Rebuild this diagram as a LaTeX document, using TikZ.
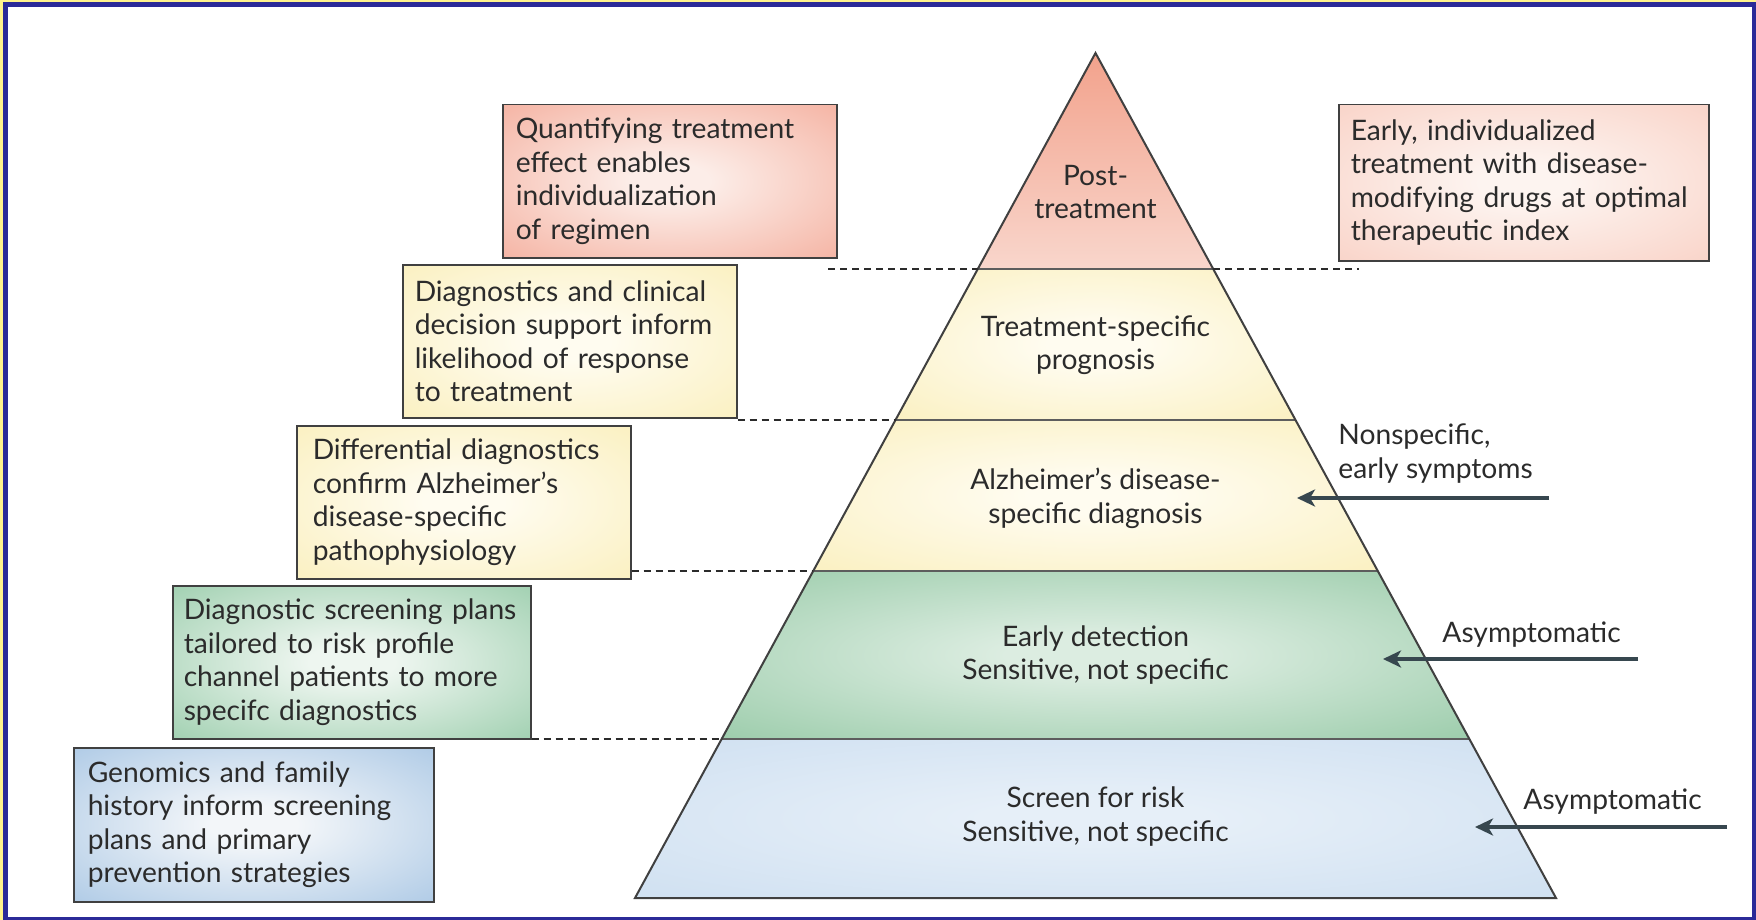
\documentclass[tikz,border=0pt]{standalone}
\usepackage{fontspec}
\setmainfont{Lato}
\usetikzlibrary{arrows.meta}

% frame and line colours
\definecolor{framebg}{HTML}{FFF38C}
\definecolor{frameblue}{HTML}{2B2A98}
\definecolor{ink}{HTML}{2B2B2B}
\definecolor{edge}{HTML}{404040}
\definecolor{arrowgray}{HTML}{37474F}
% tier colours
\definecolor{salmonTop}{HTML}{F2A28C}
\definecolor{salmonLow}{HTML}{F9D6CC}
\definecolor{creamOut}{HTML}{F9EDB4}
\definecolor{creamIn}{HTML}{FFFCF0}
\definecolor{greenOut}{HTML}{8AC39C}
\definecolor{greenIn}{HTML}{DCEDE1}
\definecolor{skyOut}{HTML}{C9DCEF}
\definecolor{skyIn}{HTML}{E6EFF8}
% box colours
\definecolor{roseOut}{HTML}{F3A491}
\definecolor{roseIn}{HTML}{FCEDE8}
\definecolor{peachOut}{HTML}{F8CBBE}
\definecolor{peachIn}{HTML}{FDF4F0}
\definecolor{mintOut}{HTML}{8CC6A0}
\definecolor{mintIn}{HTML}{EEF6F0}
\definecolor{steelOut}{HTML}{9DBFE1}
\definecolor{steelIn}{HTML}{F3F6F9}

% soft radial fill: light centre fading to the edge colour
\colorlet{softin}{white}
\colorlet{softout}{white}
\pgfdeclareradialshading[softin,softout]{soft}{\pgfpointorigin}{%
  color(0bp)=(softin); color(6bp)=(softin); color(44bp)=(softout); color(75bp)=(softout)}

\tikzset{
  x=0.5pt, y=-0.5pt,
  txt/.style={font=\fontsize{14.1}{16.75}\selectfont, text=ink},
  soft/.style 2 args={/utils/exec={\colorlet{softin}{#1}\colorlet{softout}{#2}}, shade, shading=soft},
  infobox/.style={anchor=north west, rectangle, draw=edge, line width=0.75pt,
    align=left, inner sep=0pt, txt},
  tierlabel/.style={align=center, inner sep=0pt, txt},
  sidelabel/.style={align=left, inner sep=0pt, anchor=west, txt},
  tierline/.style={draw=edge!85, line width=0.75pt},
  outline/.style={draw=edge, line width=1pt, line join=miter},
  levelmark/.style={draw=ink, line width=0.7pt, dash pattern=on 3.5pt off 2.5pt},
  inarrow/.style={draw=arrowgray, line width=2.2pt,
    -{Stealth[length=9pt, width=8.5pt, inset=2.5pt]}},
}

\begin{document}
\begin{tikzpicture}
\useasboundingbox (0,0) rectangle (1756,920);

% frame
\fill[framebg] (0,0) rectangle (1756,920);
\fill[frameblue] (3,2.5) rectangle (1756,920);
\fill[white] (8,7.5) rectangle (1752,917);

% pyramid corners and tier boundaries
\coordinate (apex) at (1095.5,53);
\coordinate (bl) at (635,898);
\coordinate (br) at (1556,898);
\coordinate (l1) at (977.8,269);  \coordinate (r1) at (1213.2,269);
\coordinate (l2) at (895.5,420);  \coordinate (r2) at (1295.5,420);
\coordinate (l3) at (813.2,571);  \coordinate (r3) at (1377.8,571);
\coordinate (l4) at (721.6,739);  \coordinate (r4) at (1469.4,739);

% tier fills
\path[top color=salmonTop, bottom color=salmonLow] (apex) -- (r1) -- (l1) -- cycle;
\path[soft={creamIn}{creamOut}] (l1) -- (r1) -- (r2) -- (l2) -- cycle;
\path[soft={creamIn}{creamOut}] (l2) -- (r2) -- (r3) -- (l3) -- cycle;
\path[soft={greenIn}{greenOut}] (l3) -- (r3) -- (r4) -- (l4) -- cycle;
\path[soft={skyIn}{skyOut}] (l4) -- (r4) -- (br) -- (bl) -- cycle;

\draw[tierline] (l1) -- (r1) (l2) -- (r2) (l3) -- (r3) (l4) -- (r4);
\draw[outline] (apex) -- (br) -- (bl) -- cycle;

% tier labels
\node[tierlabel] (t1) at (1095.5,192) {Post-\\treatment};
\node[tierlabel] (t2) at (1095.5,345) {Treatment-specific\\prognosis};
\node[tierlabel] (t3) at (1095.5,498.5) {Alzheimer’s disease-\\specific diagnosis};
\node[tierlabel] (t4) at (1095.5,655) {Early detection\\Sensitive, not specific};
\node[tierlabel] (t5) at (1095.5,816.5) {Screen for risk\\Sensitive, not specific};

% description boxes
\node[infobox, soft={roseIn}{roseOut}, minimum width=167pt, minimum height=76.5pt,
  text width=154pt] (b1) at (502,104)
  {Quantifying treatment\\effect enables\\individualization\\of regimen};
\node[infobox, soft={creamIn}{creamOut}, minimum width=167pt, minimum height=76.5pt,
  text width=155pt] (b2) at (402,264)
  {Diagnostics and clinical\\decision support inform\\likelihood of response\\to treatment};
\node[infobox, soft={creamIn}{creamOut}, minimum width=167pt, minimum height=76.5pt,
  text width=151pt] (b3) at (296,425)
  {Differential diagnostics\\confirm Alzheimer’s\\disease-specific\\pathophysiology};
\node[infobox, soft={mintIn}{mintOut}, minimum width=179pt, minimum height=76.5pt,
  text width=168pt] (b4) at (172,585)
  {Diagnostic screening plans\\tailored to risk profile\\channel patients to more\\specifc diagnostics};
\node[infobox, soft={steelIn}{steelOut}, minimum width=180pt, minimum height=77pt,
  text width=166pt] (b5) at (73,747)
  {Genomics and family\\history inform screening\\plans and primary\\prevention strategies};
\node[infobox, soft={peachIn}{peachOut}, minimum width=185pt, minimum height=78pt,
  text width=173pt] (b6) at (1338,104)
  {Early, individualized\\treatment with disease-\\modifying drugs at optimal\\therapeutic index};

% dashed level marks
\coordinate (m1) at (828,269);
\coordinate (m1r) at (1359,269);
\draw[levelmark] (m1) -- (l1);
\draw[levelmark] (r1) -- (m1r);
\draw[levelmark] (b2.east |- l2) -- (l2);
\draw[levelmark] (b3.east |- l3) -- (l3);
\draw[levelmark] (b4.east |- l4) -- (l4);

% symptom labels and entry arrows
\node[sidelabel] (s1) at (1338,453.5) {Nonspecific,\\early symptoms};
\node[sidelabel] (s2) at (1442,635) {Asymptomatic};
\node[sidelabel] (s3) at (1523,801.5) {Asymptomatic};

\coordinate (a1tail) at (1549,498);  \coordinate (a1tip) at (1297,498);
\coordinate (a2tail) at (1638,659);  \coordinate (a2tip) at (1383,659);
\coordinate (a3tail) at (1727,827);  \coordinate (a3tip) at (1475,827);
\draw[inarrow] (a1tail) -- (a1tip);
\draw[inarrow] (a2tail) -- (a2tip);
\draw[inarrow] (a3tail) -- (a3tip);
\end{tikzpicture}
\end{document}
